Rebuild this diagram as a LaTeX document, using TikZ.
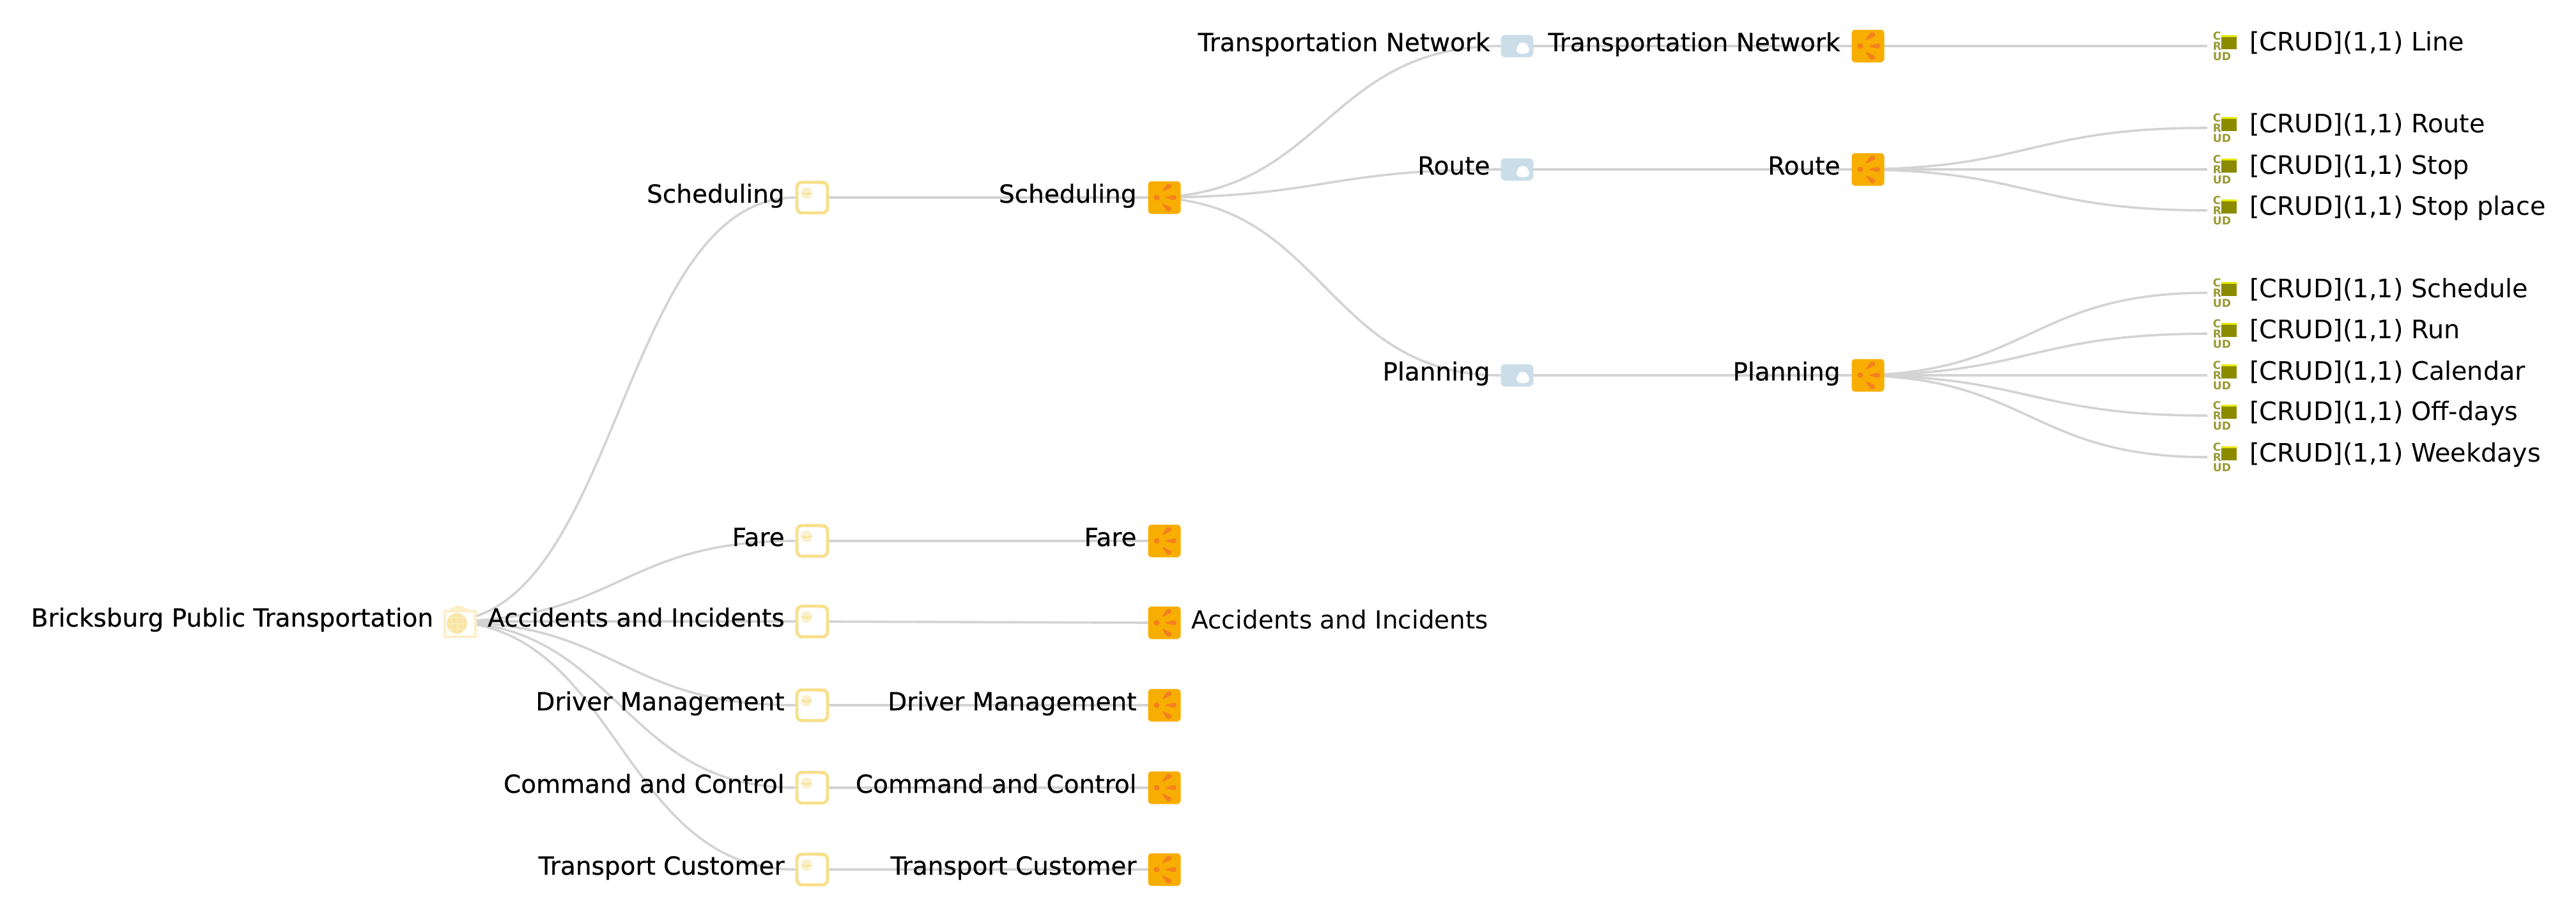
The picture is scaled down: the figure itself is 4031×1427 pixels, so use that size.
\documentclass[tikz,border=0pt]{standalone}
\usepackage{fontspec}
\setmainfont{DejaVu Sans}
\newfontfamily\heavyfont[FakeBold=0.5]{DejaVu Sans}
\usetikzlibrary{positioning,calc,backgrounds}
\definecolor{linkgrey}{HTML}{D3D3D3}
\definecolor{forkfill}{HTML}{F7AE00}
\definecolor{forkmark}{HTML}{F5801F}
\definecolor{clipyellow}{HTML}{F8DF8A}
\definecolor{clippale}{HTML}{FBF0CC}
\definecolor{rootyellow}{HTML}{FCEFC6}
\definecolor{globeyellow}{HTML}{F8E5A6}
\definecolor{boxblue}{HTML}{CBDDE8}
\definecolor{crudolive}{HTML}{8B8B00}
\definecolor{crudletter}{HTML}{999933}
\definecolor{crudtop}{HTML}{E8E800}
\tikzset{
  link/.style={draw=linkgrey, line width=.9pt, to path={.. controls ($(\tikztostart)!.5!(\tikztotarget |- \tikztostart)$) and ($(\tikztotarget)!.5!(\tikztostart |- \tikztotarget)$) .. (\tikztotarget)}},
  lbl/.style={inner sep=0pt, outer sep=0pt, text height=7.6pt, text depth=2.2pt, font=\heavyfont\fontsize{9.75pt}{12pt}\selectfont, yshift=.7pt},
  leaflbl/.style={inner sep=0pt, outer sep=0pt, text height=7.6pt, text depth=2.2pt, font=\fontsize{9.75pt}{12pt}\selectfont, yshift=.45pt},
  crudlbl/.style={inner sep=0pt, outer sep=0pt, text height=7.6pt, text depth=2.2pt, font=\fontsize{9.95pt}{12pt}\selectfont, yshift=.95pt},
  forkbox/.style={minimum size=12.75pt, inner sep=0pt, outer sep=0pt, fill=forkfill, rounded corners=1.25pt,
    path picture={\begin{scope}[shift={(path picture bounding box.center)}, forkmark]
      \fill (-12,0) circle (4.5);
      \fill (-1,0) -- (19,-5) -- (19,5) -- cycle;
      \fill (-5,-8) -- (6,-24) -- (14,-17) -- cycle;
      \fill (-5,8) -- (6,24) -- (14,17) -- cycle;
    \end{scope}}},
  clipbox/.style={minimum size=12pt, inner sep=0pt, outer sep=0.6pt, draw=clipyellow, line width=1.2pt, fill=white, rounded corners=2pt,
    path picture={\begin{scope}[shift={(path picture bounding box.center)}]
      \fill[clippale] (-24,-24) -- (-10,-24) .. controls (-6,-27) and (4,-27) .. (8,-20) -- (24,-20) -- (24,-26) -- (-24,-26) -- cycle;
      \fill[clippale] (-9,-7) circle (9);
      \draw[clipyellow, line width=.5pt] (-15,-7) -- (-9,-3) -- (-3,-7);
    \end{scope}}},
  rootbox/.style={minimum size=13pt, inner sep=0pt, outer sep=0pt,
    path picture={\begin{scope}[shift={(path picture bounding box.center)}]
      \draw[rootyellow, line width=.9pt, fill=white] (-24,-16) -- (24,-16) -- (24,24) -- (-24,24) -- cycle;
      \fill[rootyellow] (-24,-16) .. controls (-14,-18) and (-12,-25) .. (-3,-25) .. controls (6,-25) and (8,-18) .. (24,-16) -- cycle;
      \fill[globeyellow] (-5,3) circle (16);
      \draw[rootyellow, line width=.25pt] (-21,3) -- (11,3) (-5,-13) -- (-5,19) (-18,-6) -- (8,-6) (-18,12) -- (8,12) (-14,-10) -- (-14,16) (4,-10) -- (4,16);
    \end{scope}}},
  areabox/.style={minimum width=12.75pt, minimum height=8.75pt, inner sep=0pt, outer sep=0pt, fill=boxblue, rounded corners=1.75pt,
    path picture={\begin{scope}[shift={(path picture bounding box.center)}]
      \fill[white] (-1,0) -- (9,-8) -- (19,0) -- (19,12) -- (-1,12) -- cycle;
    \end{scope}}},
  crudbox/.style={minimum width=11.5pt, minimum height=12pt, inner sep=0pt, outer sep=0pt,
    path picture={\begin{scope}[shift={(path picture bounding box.center)}]
      \fill[crudolive] (-1,-17) rectangle (23,5);
      \fill[crudtop] (-1,-17) rectangle (23,-14);
      \node[anchor=west, inner sep=0pt, align=left, text=crudletter, font=\bfseries\fontsize{4.3pt}{4pt}\selectfont] (crudglyphs) at (-23,0) {C\\R\\UD};
    \end{scope}}},
}
\begin{document}
\begin{tikzpicture}[x=0.25pt,y=-0.25pt]
  \useasboundingbox (0,0) rectangle (4031,1427);
  \node[rootbox] (root) at (720,972) {};
  \node[lbl, left=4pt of root] (rootlab) {Bricksburg Public Transportation};
  \node[clipbox] (sched1) at (1271,309) {};
  \node[lbl, left=4.25pt of sched1] (sched1lab) {Scheduling};
  \node[clipbox] (fare1) at (1271,846) {};
  \node[lbl, left=4.25pt of fare1] (fare1lab) {Fare};
  \node[clipbox] (accid1) at (1271,972) {};
  \node[lbl, left=4.25pt of accid1] (accid1lab) {Accidents and Incidents};
  \node[clipbox] (driver1) at (1271,1103) {};
  \node[lbl, left=4.25pt of driver1] (driver1lab) {Driver Management};
  \node[clipbox] (command1) at (1271,1232) {};
  \node[lbl, left=4.25pt of command1] (command1lab) {Command and Control};
  \node[clipbox] (custom1) at (1271,1360) {};
  \node[lbl, left=4.25pt of custom1] (custom1lab) {Transport Customer};
  \node[forkbox] (sched2) at (1822,309) {};
  \node[lbl, left=4.5pt of sched2] (sched2lab) {Scheduling};
  \node[forkbox] (fare2) at (1822,846) {};
  \node[lbl, left=4.5pt of fare2] (fare2lab) {Fare};
  \node[forkbox] (accid2) at (1822,974) {};
  \node[leaflbl, right=4.25pt of accid2] (accid2lab) {Accidents and Incidents};
  \node[forkbox] (driver2) at (1822,1103) {};
  \node[lbl, left=4.5pt of driver2] (driver2lab) {Driver Management};
  \node[forkbox] (command2) at (1822,1232) {};
  \node[lbl, left=4.5pt of command2] (command2lab) {Command and Control};
  \node[forkbox] (custom2) at (1822,1360) {};
  \node[lbl, left=4.5pt of custom2] (custom2lab) {Transport Customer};
  \node[areabox] (tnet3) at (2374,72) {};
  \node[lbl, left=4.25pt of tnet3] (tnet3lab) {Transportation Network};
  \node[areabox] (route3) at (2374,265) {};
  \node[lbl, left=4.25pt of route3] (route3lab) {Route};
  \node[areabox] (plan3) at (2374,587) {};
  \node[lbl, left=4.25pt of plan3] (plan3lab) {Planning};
  \node[forkbox] (tnet4) at (2923,72) {};
  \node[lbl, left=4.5pt of tnet4] (tnet4lab) {Transportation Network};
  \node[forkbox] (route4) at (2923,265) {};
  \node[lbl, left=4.5pt of route4] (route4lab) {Route};
  \node[forkbox] (plan4) at (2923,587) {};
  \node[lbl, left=4.5pt of plan4] (plan4lab) {Planning};
  \node[crudbox] (line5) at (3477,72) {};
  \node[crudlbl, right=5pt of line5] (line5lab) {[CRUD](1,1) Line};
  \node[crudbox] (route5) at (3477,200) {};
  \node[crudlbl, right=5pt of route5] (route5lab) {[CRUD](1,1) Route};
  \node[crudbox] (stop5) at (3477,265) {};
  \node[crudlbl, right=5pt of stop5] (stop5lab) {[CRUD](1,1) Stop};
  \node[crudbox] (place5) at (3477,329) {};
  \node[crudlbl, right=5pt of place5] (place5lab) {[CRUD](1,1) Stop place};
  \node[crudbox] (sched5) at (3477,458) {};
  \node[crudlbl, right=5pt of sched5] (sched5lab) {[CRUD](1,1) Schedule};
  \node[crudbox] (run5) at (3477,522) {};
  \node[crudlbl, right=5pt of run5] (run5lab) {[CRUD](1,1) Run};
  \node[crudbox] (cal5) at (3477,587) {};
  \node[crudlbl, right=5pt of cal5] (cal5lab) {[CRUD](1,1) Calendar};
  \node[crudbox] (off5) at (3477,650) {};
  \node[crudlbl, right=5pt of off5] (off5lab) {[CRUD](1,1) Off-days};
  \node[crudbox] (week5) at (3477,715) {};
  \node[crudlbl, right=5pt of week5] (week5lab) {[CRUD](1,1) Weekdays};
  \begin{scope}[on background layer]
    \draw[link] (root.west) to (sched1.west);
    \draw[link] (root.west) to (fare1.west);
    \draw[link] (root.west) to (accid1.west);
    \draw[link] (root.west) to (driver1.west);
    \draw[link] (root.west) to (command1.west);
    \draw[link] (root.west) to (custom1.west);
    \draw[link] (sched1.west) to (sched2.west);
    \draw[link] (fare1.west) to (fare2.west);
    \draw[link] (accid1.west) to (accid2.west);
    \draw[link] (driver1.west) to (driver2.west);
    \draw[link] (command1.west) to (command2.west);
    \draw[link] (custom1.west) to (custom2.west);
    \draw[link] (sched2.west) to (tnet3.west);
    \draw[link] (sched2.west) to (route3.west);
    \draw[link] (sched2.west) to (plan3.west);
    \draw[link] (tnet3.west) to (tnet4.west);
    \draw[link] (route3.west) to (route4.west);
    \draw[link] (plan3.west) to (plan4.west);
    \draw[link] (tnet4.west) to (line5.west);
    \draw[link] (route4.west) to (route5.west);
    \draw[link] (route4.west) to (stop5.west);
    \draw[link] (route4.west) to (place5.west);
    \draw[link] (plan4.west) to (sched5.west);
    \draw[link] (plan4.west) to (run5.west);
    \draw[link] (plan4.west) to (cal5.west);
    \draw[link] (plan4.west) to (off5.west);
    \draw[link] (plan4.west) to (week5.west);
  \end{scope}
\end{tikzpicture}
\end{document}
